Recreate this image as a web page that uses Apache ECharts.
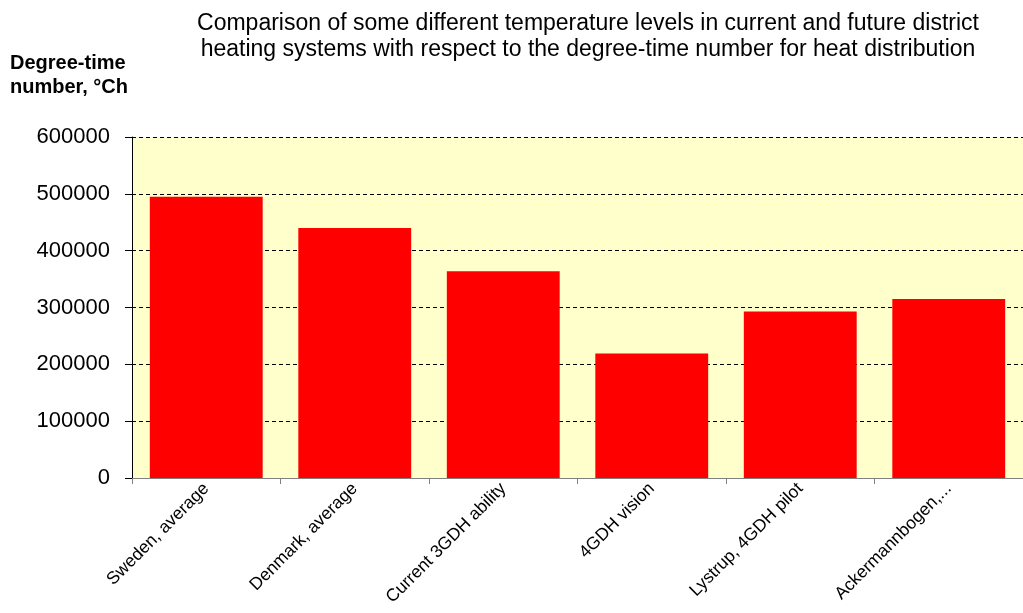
<!DOCTYPE html>
<html>
<head>
<meta charset="utf-8">
<script src="https://cdn.jsdelivr.net/npm/echarts@6/dist/echarts.min.js"></script>
<style>html,body{margin:0;padding:0;background:#fff;}#c{width:1023px;height:613px;}</style>
</head>
<body>
<div id="c"></div>
<script>
var categories = ["Sweden, average", "Denmark, average", "Current 3GDH ability", "4GDH vision", "Lystrup, 4GDH pilot", "Ackermannbogen,..."];
var values = [495000, 440000, 364000, 219000, 293000, 315000];
var chart = echarts.init(document.getElementById('c'));
chart.setOption({
  animation: false,
  backgroundColor: '#ffffff',
  title: {
    text: 'Comparison of some different temperature levels in current and future district\nheating systems with respect to the degree-time number for heat distribution',
    left: 583, top: 6, textAlign: 'center',
    textStyle: {fontFamily: 'Liberation Sans, Arial', fontSize: 23, fontWeight: 'normal', color: '#000', lineHeight: 26}
  },
  graphic: [{
    type: 'text', left: 10, top: 51,
    style: {text: 'Degree-time\nnumber, °Ch', font: 'bold 20px "Liberation Sans", Arial', fill: '#000', lineHeight: 24}
  }],
  grid: {left: 132, right: 0, top: 137, bottom: 135, show: true, backgroundColor: '#FFFFCC', borderWidth: 0},
  xAxis: {
    type: 'category', data: categories,
    axisLine: {lineStyle: {color: '#808080', width: 1}},
    axisTick: {show: true, length: 6, lineStyle: {color: '#808080'}},
    axisLabel: {rotate: 45, interval: 0, margin: 8, fontFamily: 'Liberation Sans, Arial', fontSize: 17.5, color: '#000'}
  },
  yAxis: {
    type: 'value', min: 0, max: 600000, interval: 100000,
    axisLine: {show: true, lineStyle: {color: '#000', width: 1}},
    axisTick: {show: true, length: 7, lineStyle: {color: '#000'}},
    axisLabel: {margin: 22, fontFamily: 'Liberation Sans, Arial', fontSize: 22, color: '#000', formatter: function (v) { return String(v); }},
    splitLine: {show: true, lineStyle: {color: '#000', type: [4, 3], width: 1}}
  },
  series: [{
    type: 'bar', data: values, barCategoryGap: '24%',
    itemStyle: {color: '#FF0000'}
  }]
});
</script>
</body>
</html>
